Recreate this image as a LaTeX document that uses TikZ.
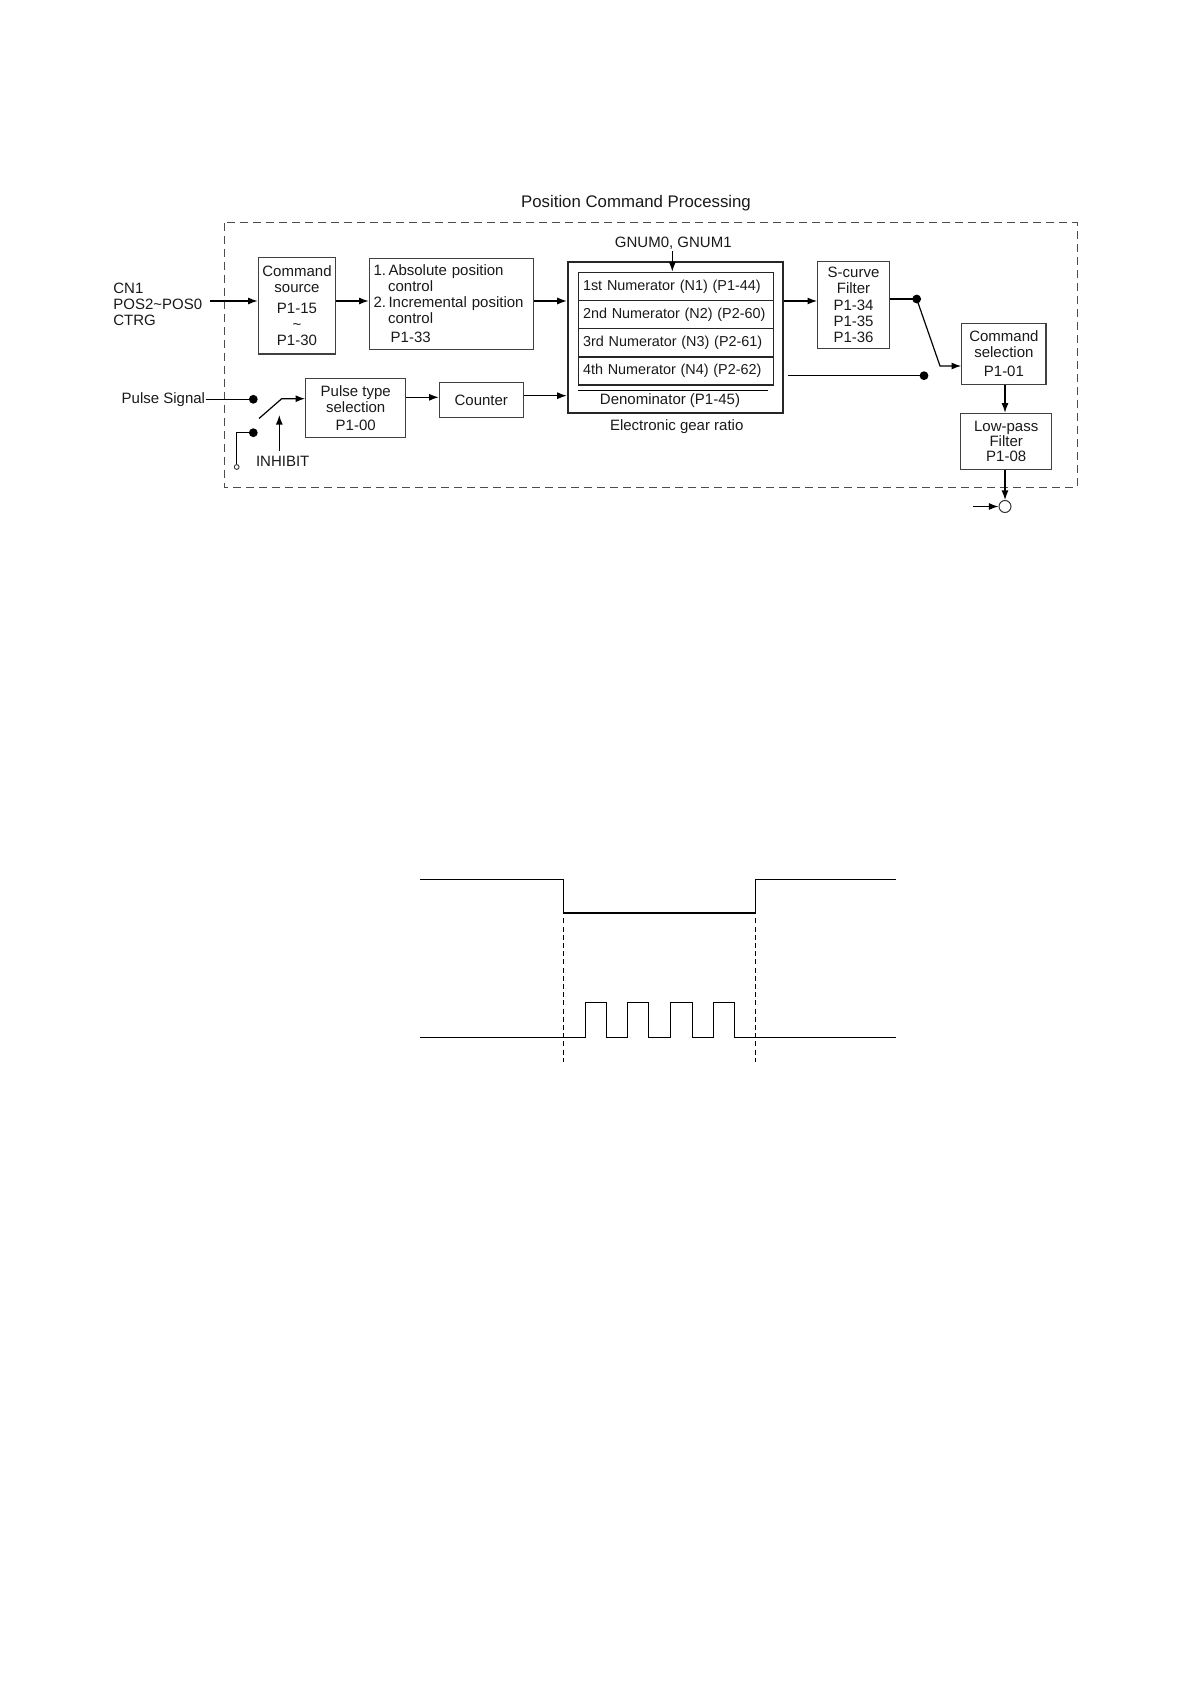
\documentclass[tikz,border=0pt]{standalone}
\usepackage{fontspec}
\setmainfont{Liberation Sans}
\usetikzlibrary{arrows.meta}
\newcommand\fs{\fontsize{7.5pt}{8pt}\selectfont}
\newcommand\fr{\fontsize{7.2pt}{8pt}\selectfont}
\begin{document}
\begin{tikzpicture}[x=0.5pt,y=-0.5pt,
  box/.style={draw=black!75, line width=0.6pt, inner sep=0pt, align=center, font=\fs, text=black!90},
  rowbox/.style={draw=black!85, line width=0.7pt, inner sep=0pt, minimum width=97.5pt, minimum height=14.1pt, text width=92.8pt, align=left, font=\fr, text=black!90},
  lbl/.style={inner sep=0pt, font=\fs, text=black!90},
  arr/.style={-{Latex[length=4.8pt,width=3.5pt]}, line width=0.6pt},
  ln/.style={line width=0.6pt},
  dot/.style={circle, fill=black, inner sep=0pt, minimum size=4.4pt},
  wave/.style={line width=0.65pt},
  guide/.style={line width=0.5pt, dash pattern=on 2.5pt off 1.6pt}]
\useasboundingbox (0,0) rectangle (1190,1684);

% title and frame
\node[lbl, font=\fontsize{8.4pt}{10pt}\selectfont] (title) at (636,203) {Position Command Processing};
\draw[draw=black!70, line width=0.5pt, dash pattern=on 4pt off 2.5pt] (224.5,222.7) rectangle (1077,487);

% left inputs
\node[lbl, anchor=west, align=left] (cn1) at (113,304) {CN1\\POS2\textasciitilde POS0\\CTRG};
\coordinate (cnin) at (210,301);

% top row boxes
\node[box, minimum width=38.7pt, minimum height=48.35pt] (src) at (297,305.7)
  {Command\\source\\[2.6pt]P1-15\\\textasciitilde\\P1-30};
\node[box, minimum width=82pt, minimum height=45.5pt, text width=77.8pt, align=left] (abs) at (451.3,303.8)
  {1.\,Absolute position\\\hspace*{7.3pt}control\\2.\,Incremental position\\\hspace*{7.3pt}control\\[1.6pt]\hspace*{8.6pt}P1-33};

% electronic gear
\node[draw=black!85, line width=0.9pt, inner sep=0pt, minimum width=107.8pt, minimum height=75.8pt] (gear) at (675.5,337.5) {};
\node[rowbox] (n1) at (675.8,286.4) {1st Numerator (N1) (P1-44)};
\node[rowbox] (n2) at (675.8,314.6) {2nd Numerator (N2) (P2-60)};
\node[rowbox] (n3) at (675.8,342.8) {3rd Numerator (N3) (P2-61)};
\node[rowbox] (n4) at (675.8,370.9) {4th Numerator (N4) (P2-62)};
\coordinate (denl) at (577.7,390.5);
\coordinate (denr) at (768.3,390.5);
\draw[ln] (denl) -- (denr);
\node[lbl] (den) at (670,400.5) {Denominator (P1-45)};
\node[lbl] (gearlbl) at (676.7,426.7) {Electronic gear ratio};
\node[lbl] (gnum) at (673.3,243.3) {GNUM0, GNUM1};
\coordinate (gnumtail) at (672.3,251.5);
\draw[arr] (gnumtail) -- (gnumtail |- n1.north);

% S-curve, command selection, low-pass
\node[box, minimum width=35.8pt, minimum height=43.3pt] (scurve) at (853.5,305)
  {S-curve\\Filter\\[0.6pt]P1-34\\P1-35\\P1-36};
\node[box, minimum width=42.15pt, minimum height=30.5pt] (cmdsel) at (1003.9,353.8)
  {Command\\selection\\[1.6pt]P1-01};
\node[box, minimum width=45.5pt, minimum height=28pt, font=\fontsize{7.5pt}{7.6pt}\selectfont] (lowpass) at (1006.2,441.3)
  {Low-pass\\Filter\\P1-08};
\node[circle, draw=black!80, line width=0.5pt, inner sep=0pt, minimum size=6pt] (out) at (1005,506.5) {};
\coordinate (outin) at (973,506.5);

% top row connectors
\draw[arr] (cnin) -- (cnin -| src.west);
\draw[arr] (cnin -| src.east) -- (cnin -| abs.west);
\draw[arr] (cnin -| abs.east) -- (cnin -| gear.west);
\draw[arr] (cnin -| gear.east) -- (cnin -| scurve.west);

\node[dot] (d3) at (916.7,299) {};
\node[dot] (d4) at (924,375.7) {};
\coordinate (bend) at (940,366);
\draw[ln] (d3 -| scurve.east) -- (d3.center);
\draw[arr] (d3.center) -- (bend) -- (bend -| cmdsel.west);
\draw[ln] ([xshift=2pt]d4 -| gear.east) -- (d4.center);
\draw[arr] (cmdsel.south -| 1005,0) -- (lowpass.north -| 1005,0);
\draw[arr] (lowpass.south -| out.north) -- (out.north);
\draw[arr] (outin) -- (out.west);

% pulse path
\node[lbl, anchor=east] (ps) at (205.5,399.3) {Pulse Signal};
\node[dot] (d1) at (253.3,399.3) {};
\node[dot] (d2) at (253.3,432.7) {};
\node[circle, draw=black!80, line width=0.45pt, inner sep=0pt, minimum size=2.4pt] (gnd) at (236.7,467) {};
\draw[ln] (ps.east) -- (d1.center);
\draw[ln] (d2.center) -| (gnd.north);
\node[box, minimum width=50pt, minimum height=29.7pt] (ptype) at (355.7,408)
  {Pulse type\\selection\\[1.2pt]P1-00};
\node[box, minimum width=42pt, minimum height=17.3pt] (counter) at (481.3,400) {Counter};
\coordinate (sw1) at (259,418.5);
\coordinate (sw2) at (281.7,398.7);
\draw[arr] (sw1) -- (sw2) -- (sw2 -| ptype.west);
\node[lbl] (inh) at (282.7,461.7) {INHIBIT};
\coordinate (inhtail) at (279.3,451);
\coordinate (inhtip) at (279.3,415);
\draw[arr] (inhtail) -- (inhtip);
\draw[arr] ([yshift=1.35pt]counter.west -| ptype.east) -- ([yshift=1.35pt]counter.west);
\draw[arr] ([yshift=2.15pt]counter.east) -- ([yshift=2.15pt]counter.east -| gear.west);

% timing diagram
\draw[wave] (420,879.3) -- (563.3,879.3) -- (563.3,913) -- (755.7,913) -- (755.7,879.3) -- (896,879.3);
\draw[wave] (420,1037.3)
  -- (585.3,1037.3) -- (585.3,1002.3) -- (606.3,1002.3) -- (606.3,1037.3)
  -- (627.3,1037.3) -- (627.3,1002.3) -- (648.3,1002.3) -- (648.3,1037.3)
  -- (670.7,1037.3) -- (670.7,1002.3) -- (692.7,1002.3) -- (692.7,1037.3)
  -- (713.3,1037.3) -- (713.3,1002.3) -- (734.3,1002.3) -- (734.3,1037.3)
  -- (896,1037.3);
\draw[guide] (563.3,918.3) -- (563.3,1061.7);
\draw[guide] (755.7,918.3) -- (755.7,1061.7);
\end{tikzpicture}
\end{document}
